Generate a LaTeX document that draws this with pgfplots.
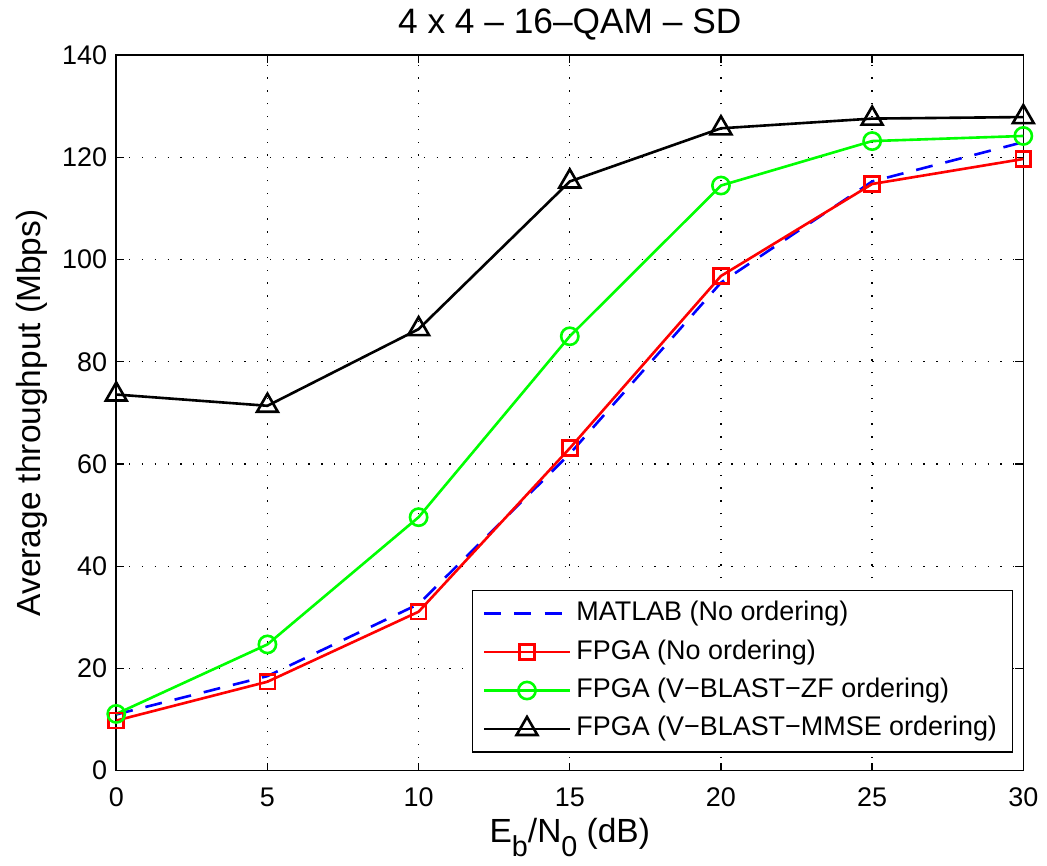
\documentclass[border=0pt]{standalone}
\usepackage{fontspec}
\setmainfont{Liberation Sans}
\usepackage{pgfplots}
\pgfplotsset{compat=1.18}
\definecolor{mgreen}{rgb}{0,1,0}
\definecolor{mred}{rgb}{1,0,0}
\definecolor{mblue}{rgb}{0,0,1}
\begin{document}
\begin{tikzpicture}
\begin{axis}[
  scale only axis,
  width=346.9pt, height=273.6pt,
  xmin=0, xmax=30, ymin=0, ymax=140,
  xtick={0,5,...,30}, ytick={0,20,...,140},
  tick align=inside, tick pos=both,
  major tick length=3pt,
  tick style={black, line width=0.5pt},
  grid=major,
  grid style={black, line width=0.5pt, dash pattern=on 0.5pt off 4.4pt},
  axis line style={black, line width=0.6pt},
  /pgf/number format/assume math mode=true,
  tick label style={font=\fontsize{10.3}{12}\selectfont},
  xticklabel style={yshift=-3pt},
  every axis y label/.style={at={(axis description cs:-0.093,0.5)}, rotate=90, anchor=center, font=\fontsize{12.8}{14}\selectfont},
  every axis x label/.style={at={(axis description cs:0.5,-0.1)}, anchor=base, font=\fontsize{12.8}{14}\selectfont},
  every axis title/.style={at={(axis description cs:0.5,1.0306)}, anchor=base, font=\fontsize{13.5}{15}\selectfont},
  title={4 x 4 – 16–QAM – SD},
  xlabel={E\raisebox{-5.5pt}{\fontsize{11}{11}\selectfont b}/N\raisebox{-5.5pt}{\fontsize{11}{11}\selectfont 0} (dB)},
  ylabel={Average throughput (Mbps)},
  legend style={at={(0.989,0.025)}, anchor=south east, font=\fontsize{10.3}{12}\selectfont, draw=black, line width=0.5pt, inner xsep=4pt, inner ysep=1.5pt,
    nodes={text height=7.5pt, text depth=2.2pt, inner ysep=2.5pt}},
  legend cell align=left,
  legend image code/.code={\draw[mark repeat=2,mark phase=2,#1] plot coordinates {(0pt,0pt) (16.3pt,0pt) (32.7pt,0pt)};},
]
\addplot[mblue, line width=1pt, dash pattern=on 6.5pt off 5pt] coordinates {(0,11.0) (5,18.5) (10,32.6) (15,62) (20,95.5) (25,115.3) (30,123)};
\addlegendentry{MATLAB (No ordering)}
\addplot[mred, line width=1pt, mark=square, mark size=2.85pt, mark options={solid, line width=1pt}] coordinates {(0,9.8) (5,17.4) (10,31.1) (15,63.1) (20,96.8) (25,114.8) (30,119.7)};
\addlegendentry{FPGA (No ordering)}
\addplot[mgreen, line width=1pt, mark=o, mark size=3.3pt, mark options={solid, line width=1pt}] coordinates {(0,11.1) (5,24.7) (10,49.6) (15,85.0) (20,114.5) (25,123.2) (30,124.2)};
\addlegendentry{FPGA (V−BLAST−ZF ordering)}
\addplot[black, line width=1pt, mark=triangle, mark size=4.6pt, mark options={solid, line width=1pt}] coordinates {(0,73.6) (5,71.4) (10,86.4) (15,115.3) (20,125.7) (25,127.6) (30,127.9)};
\addlegendentry{FPGA (V−BLAST−MMSE ordering)}
\end{axis}
\path (current axis.south west) ++(-44.46pt,-33.82pt) rectangle ([shift={(6.08pt,20.9pt)}]current axis.north east);
\end{tikzpicture}
\end{document}
